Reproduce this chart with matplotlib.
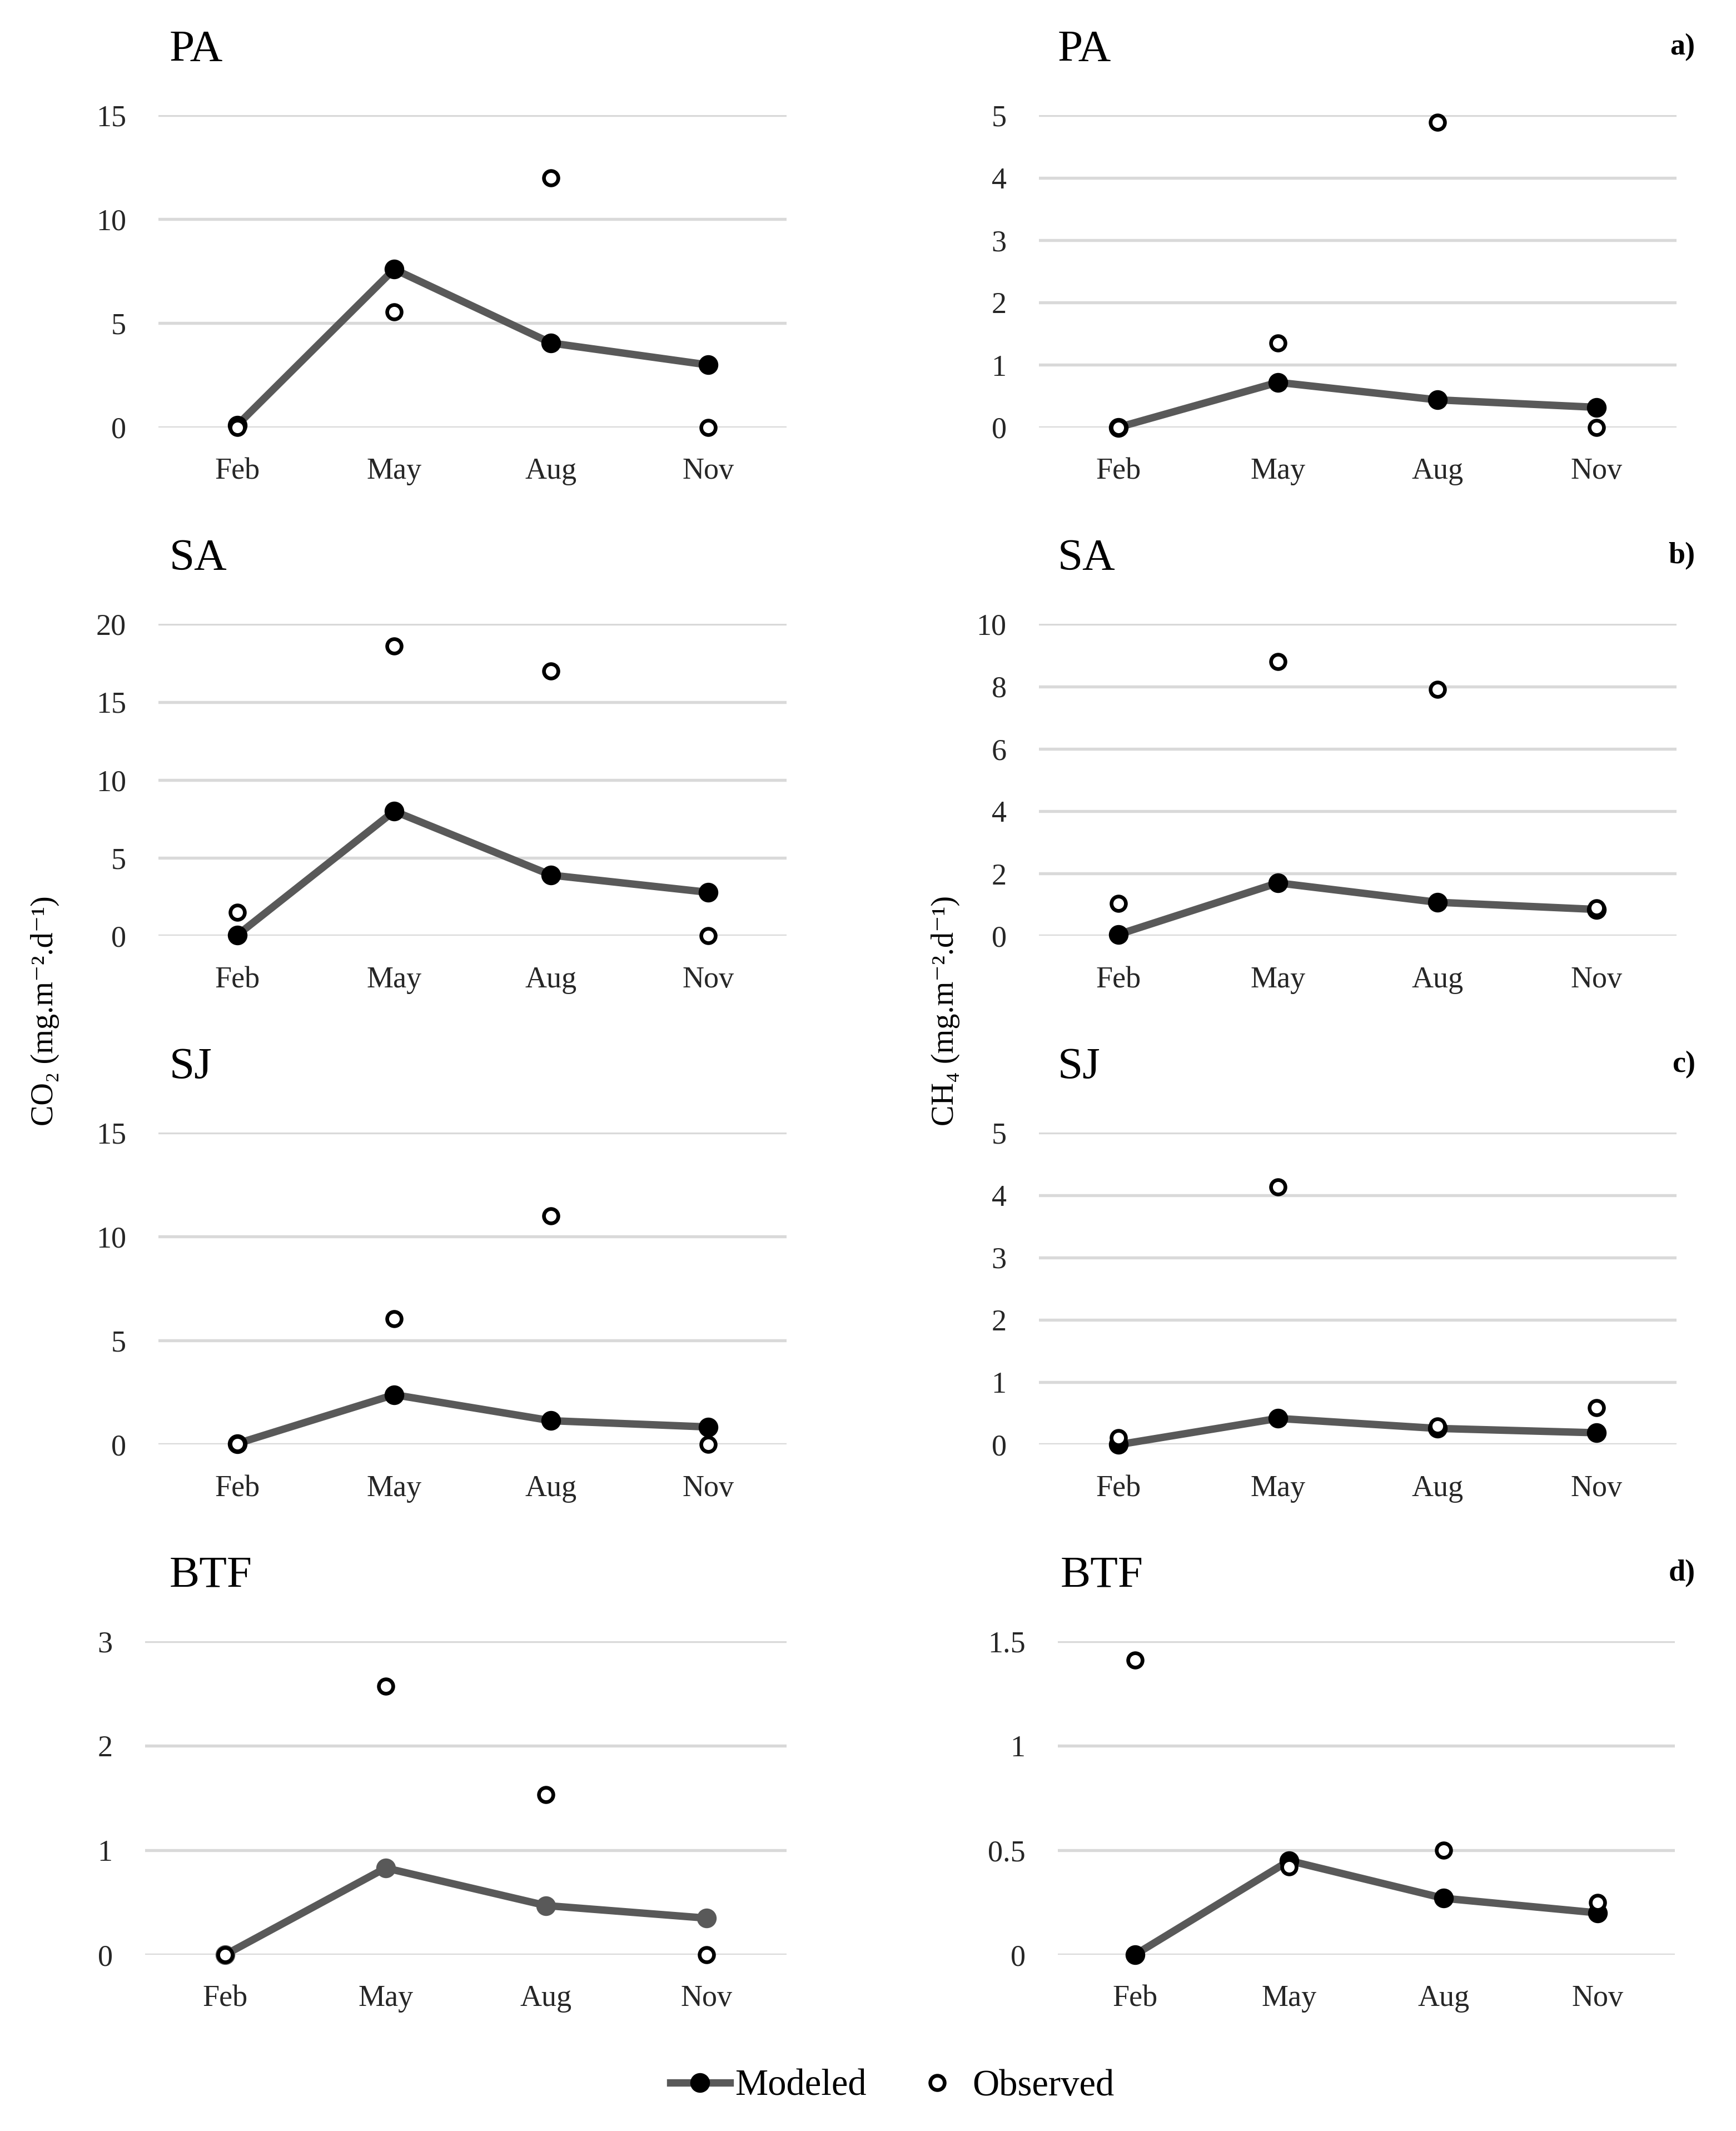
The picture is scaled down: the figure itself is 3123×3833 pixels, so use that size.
import numpy as np
import matplotlib
matplotlib.use("Agg")
import matplotlib.pyplot as plt
from matplotlib.lines import Line2D

plt.rcParams['font.family'] = ['Liberation Serif', 'DejaVu Serif']

months = ["Feb", "May", "Aug", "Nov"]
sites = ["PA", "SA", "SJ", "BTF"]
panel_tags = ["a)", "b)", "c)", "d)"]

# CO2 (left column)
co2_modeled = {
    "PA": [0.1, 7.6, 4.05, 3.0],
    "SA": [0.05, 8.0, 3.9, 2.8],
    "SJ": [0.05, 2.4, 1.15, 0.85],
    "BTF": [0.0, 0.83, 0.47, 0.35],
}
co2_observed = {
    "PA": [0.0, 5.55, 12.0, 0.0],
    "SA": [1.5, 18.6, 17.0, 0.0],
    "SJ": [0.05, 6.05, 11.0, 0.0],
    "BTF": [0.0, 2.57, 1.53, 0.0],
}
co2_ticks = {
    "PA": [0, 5, 10, 15],
    "SA": [0, 5, 10, 15, 20],
    "SJ": [0, 5, 10, 15],
    "BTF": [0, 1, 2, 3],
}

# CH4 (right column)
ch4_modeled = {
    "PA": [0.0, 0.72, 0.44, 0.32],
    "SA": [0.05, 1.7, 1.08, 0.85],
    "SJ": [0.0, 0.42, 0.26, 0.19],
    "BTF": [0.0, 0.45, 0.27, 0.2],
}
ch4_observed = {
    "PA": [0.0, 1.35, 4.89, 0.0],
    "SA": [1.04, 8.8, 7.9, 0.9],
    "SJ": [0.11, 4.13, 0.3, 0.59],
    "BTF": [1.41, 0.42, 0.5, 0.25],
}
ch4_ticks = {
    "PA": [0, 1, 2, 3, 4, 5],
    "SA": [0, 2, 4, 6, 8, 10],
    "SJ": [0, 1, 2, 3, 4, 5],
    "BTF": [0, 0.5, 1, 1.5],
}

W, H = 1280.0, 1571.0  # layout reference grid
fig = plt.figure(figsize=(3123 / 300, 3833 / 300), dpi=300)

row_top = [85, 460, 835, 1210]
row_bot = [315, 690, 1065, 1441]
left_x = [(117, 580), (117, 580), (117, 580), (107, 580)]
right_x = [(766, 1236), (766, 1236), (766, 1236), (780, 1235)]

line_col = "#595959"
grid_col = "#d9d9d9"
tick_col = "#262626"


def fmt(v):
    return ("%g" % v)


def draw(ax, modeled, observed, ticks, mod_face="black"):
    x = np.arange(len(months))
    ax.plot(x, modeled, color=line_col, lw=3.2, solid_capstyle="round",
            zorder=3, clip_on=False)
    ax.plot(x, modeled, ls="none", marker="o", ms=7.5, mfc=mod_face,
            mec=mod_face, zorder=4, clip_on=False)
    ax.plot(x, observed, ls="none", marker="o", ms=6.2, mfc="white",
            mec="black", mew=1.6, zorder=5, clip_on=False)
    ax.set_xlim(-0.5, len(months) - 0.5)
    ax.set_ylim(ticks[0], ticks[-1])
    ax.set_yticks(ticks)
    ax.set_yticklabels([fmt(t) for t in ticks])
    ax.set_xticks(x)
    ax.set_xticklabels(months)
    ax.grid(axis="y", color=grid_col, lw=1.3)
    ax.set_axisbelow(True)
    for s in ax.spines.values():
        s.set_visible(False)
    ax.tick_params(length=0, labelsize=13, colors=tick_col)
    ax.tick_params(axis="x", pad=13)
    ax.tick_params(axis="y", pad=14)


for i, site in enumerate(sites):
    top, bot = row_top[i], row_bot[i]
    y0 = 1 - bot / H
    h = (bot - top) / H

    xl0, xl1 = left_x[i]
    axl = fig.add_axes([xl0 / W, y0, (xl1 - xl0) / W, h])
    face = line_col if site == "BTF" else "black"
    draw(axl, co2_modeled[site], co2_observed[site], co2_ticks[site], face)

    xr0, xr1 = right_x[i]
    axr = fig.add_axes([xr0 / W, y0, (xr1 - xr0) / W, h])
    draw(axr, ch4_modeled[site], ch4_observed[site], ch4_ticks[site])

    ty = 1 - (top - 48) / H
    fig.text(125 / W, ty, site, fontsize=19.5, ha="left", va="center")
    fig.text((780 if site != "BTF" else 782) / W, ty, site, fontsize=19.5,
             ha="left", va="center")
    fig.text(1250 / W, 1 - (top - 50) / H, panel_tags[i], fontsize=13,
             fontweight="bold", ha="right", va="center")

fig.text(33 / W, 1 - 745 / H, "CO\u2082 (mg.m\u207b\u00b2.d\u207b\u00b9)",
         rotation=90, fontsize=13.5, ha="center", va="center")
fig.text(697 / W, 1 - 745 / H, "CH\u2084 (mg.m\u207b\u00b2.d\u207b\u00b9)",
         rotation=90, fontsize=13.5, ha="center", va="center")

handles = [
    Line2D([], [], color=line_col, lw=3.2, marker="o", ms=7.5,
           mfc="black", mec="black"),
    Line2D([], [], ls="none", marker="o", ms=6.2, mfc="white",
           mec="black", mew=1.6),
]
fig.legend(handles, ["Modeled", "Observed"], loc="center",
           bbox_to_anchor=(0.514, 1 - 1538 / H), ncol=2, frameon=False,
           fontsize=16, handlelength=1.6, handletextpad=0.15,
           columnspacing=1.1)

fig.savefig("out.png", dpi=300, facecolor="white")
